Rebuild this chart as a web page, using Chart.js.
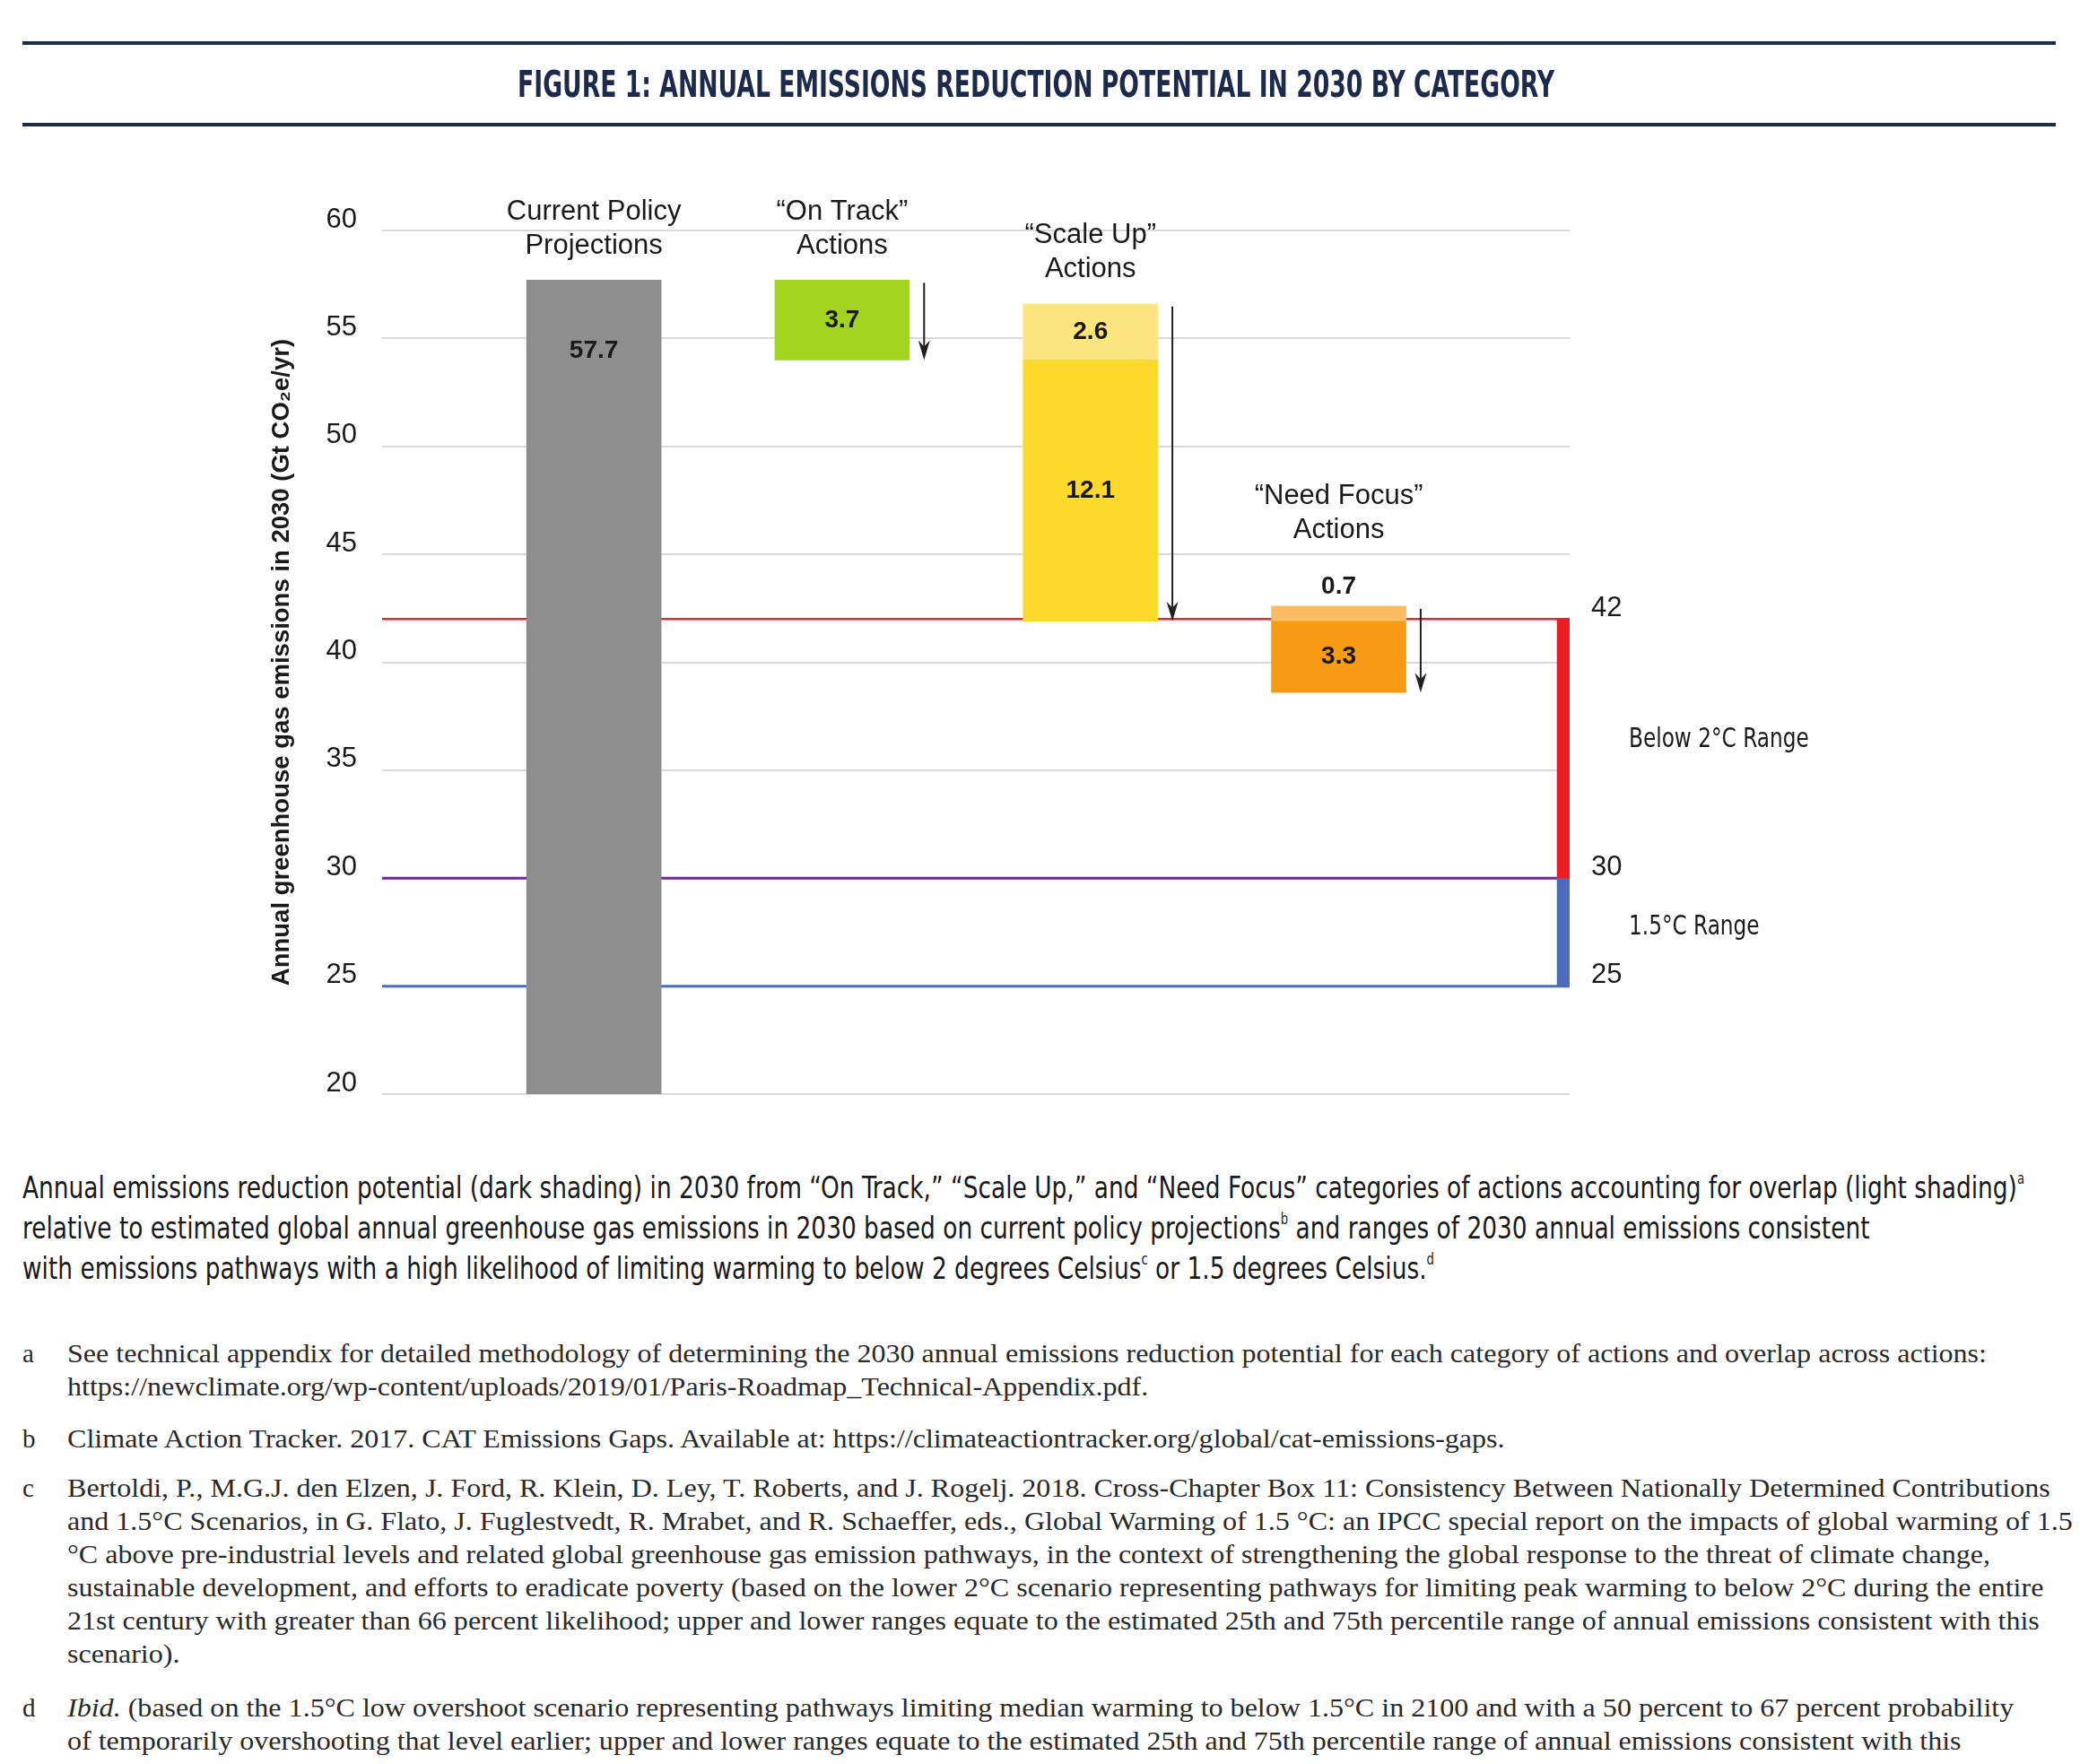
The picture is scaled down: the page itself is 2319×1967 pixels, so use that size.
<!DOCTYPE html>
<html>
<head>
<meta charset="utf-8">
<script src="https://cdn.jsdelivr.net/npm/chart.js@4.4.1/dist/chart.umd.min.js"></script>
<style>
  body { margin: 0; width: 2319px; height: 1967px; position: relative; background: #fff; overflow: hidden; }
  .rule { position: absolute; left: 25px; width: 2267px; height: 4px; background: #1c2b4b; }
  #titleWrap { position: absolute; left: 0; top: 74px; width: 2310px; text-align: center; }
  #titleText { display: inline-block; font: bold 40px/40px "Liberation Sans Narrow", "DejaVu Sans Condensed", "Liberation Sans", sans-serif; color: #1c2b4b; white-space: nowrap; transform-origin: center; }
  #chartBox { position: absolute; left: 0; top: 0; width: 2319px; height: 1270px; }
  #caption { position: absolute; left: 25px; top: 1302px; font: 34px/45px "Liberation Sans Narrow", "DejaVu Sans Condensed", "Liberation Sans", sans-serif; color: #1a1a1a; white-space: nowrap; transform-origin: left top; }
  #caption sup { font-size: 17px; line-height: 0; vertical-align: 0; position: relative; top: -16px; }
  .fn { position: absolute; left: 25px; font: 29px/37px "Liberation Serif", "DejaVu Serif", serif; color: #2a2a2a; white-space: nowrap; }
  .fn .lab { position: absolute; left: 0; top: 0; }
  .fn .txt { position: absolute; left: 50px; top: 0; transform-origin: left top; }
</style>
</head>
<body>
<div id="chartBox"><canvas id="chart"></canvas></div>
<div class="rule" style="top:46px"></div>
<div id="titleWrap"><span id="titleText">FIGURE 1: ANNUAL EMISSIONS REDUCTION POTENTIAL IN 2030 BY CATEGORY</span></div>
<div class="rule" style="top:137px"></div>

<div id="caption">Annual emissions reduction potential (dark shading) in 2030 from “On Track,” “Scale Up,” and “Need Focus” categories of actions accounting for overlap (light shading)<sup>a</sup><br>relative to estimated global annual greenhouse gas emissions in 2030 based on current policy projections<sup>b</sup> and ranges of 2030 annual emissions consistent<br>with emissions pathways with a high likelihood of limiting warming to below 2 degrees Celsius<sup>c</sup> or 1.5 degrees Celsius.<sup>d</sup></div>

<div class="fn" style="top:1491px"><span class="lab">a</span><span class="txt" id="fnA">See technical appendix for detailed methodology of determining the 2030 annual emissions reduction potential for each category of actions and overlap across actions:<br>https://newclimate.org/wp-content/uploads/2019/01/Paris-Roadmap_Technical-Appendix.pdf.</span></div>
<div class="fn" style="top:1586px"><span class="lab">b</span><span class="txt">Climate Action Tracker. 2017. CAT Emissions Gaps. Available at: https://climateactiontracker.org/global/cat-emissions-gaps.</span></div>
<div class="fn" style="top:1641px"><span class="lab">c</span><span class="txt">Bertoldi, P., M.G.J. den Elzen, J. Ford, R. Klein, D. Ley, T. Roberts, and J. Rogelj. 2018. Cross-Chapter Box 11: Consistency Between Nationally Determined Contributions<br>and 1.5°C Scenarios, in G. Flato, J. Fuglestvedt, R. Mrabet, and R. Schaeffer, eds., Global Warming of 1.5 °C: an IPCC special report on the impacts of global warming of 1.5<br>°C above pre-industrial levels and related global greenhouse gas emission pathways, in the context of strengthening the global response to the threat of climate change,<br>sustainable development, and efforts to eradicate poverty (based on the lower 2°C scenario representing pathways for limiting peak warming to below 2°C during the entire<br>21st century with greater than 66 percent likelihood; upper and lower ranges equate to the estimated 25th and 75th percentile range of annual emissions consistent with this<br>scenario).</span></div>
<div class="fn" style="top:1886px"><span class="lab">d</span><span class="txt"><i>Ibid.</i> (based on the 1.5°C low overshoot scenario representing pathways limiting median warming to below 1.5°C in 2100 and with a 50 percent to 67 percent probability<br>of temporarily overshooting that level earlier; upper and lower ranges equate to the estimated 25th and 75th percentile range of annual emissions consistent with this</span></div>

<script>
// values (Gt CO2e/yr in 2030)
const categoryLines = [['Current Policy', 'Projections'], ['“On Track”', 'Actions'], ['“Scale Up”', 'Actions'], ['“Need Focus”', 'Actions']];
const currentPolicy = 57.7;
const reductions = [3.7, 12.1, 3.3];     // dark shading: On Track, Scale Up, Need Focus
const overlaps = [0, 2.6, 0.7];          // light shading
const below2Range = [30, 42];
const below15Range = [25, 30];
const rangeLabels = ['Below 2°C Range', '1.5°C Range'];
const yMin = 20, yMax = 60, yStep = 5;
const rightTicks = [42, 30, 25];

const xMin = 0.147, xMax = 4.93, rangeX = 4.905;
const sansNarrow = '"Liberation Sans Narrow", "DejaVu Sans Condensed", "Liberation Sans", sans-serif';
const sans = '"Liberation Sans", Arial, sans-serif';
const ink = '#1a1a1a';

// waterfall: each category starts where the previous one ended
let level = currentPolicy;
const darkBars = [], lightBars = [], arrows = [];
reductions.forEach((r, i) => {
    const x = i + 2, top = +(level + overlaps[i]).toFixed(1), bottom = +(level - r).toFixed(1);
    if (overlaps[i] > 0) lightBars.push({ x, y: [level, top], label: overlaps[i] });
    darkBars.push({ x, y: [bottom, level], label: reductions[i] });
    arrows.push({ x: x + 0.33, from: top, to: bottom });
    level = bottom;
});

const lineDs = (v, color, w) => ({ type: 'line', data: [{ x: xMin, y: v }, { x: xMax, y: v }], borderColor: color, borderWidth: w, pointRadius: 0, order: 10 });

const overlay = {
    id: 'overlay',
    afterDatasetsDraw(chart) {
        const { ctx, chartArea, scales: { x, y } } = chart;
        ctx.save();
        // arrows
        ctx.strokeStyle = '#231f20'; ctx.fillStyle = '#231f20'; ctx.lineWidth = 2;
        arrows.forEach(a => {
            const px = x.getPixelForValue(a.x), y0 = y.getPixelForValue(a.from) + 3, y1 = y.getPixelForValue(a.to);
            ctx.beginPath(); ctx.moveTo(px, y0); ctx.lineTo(px, y1 - 12); ctx.stroke();
            ctx.beginPath(); ctx.moveTo(px, y1); ctx.lineTo(px - 6.5, y1 - 22); ctx.lineTo(px, y1 - 15); ctx.lineTo(px + 6.5, y1 - 22); ctx.closePath(); ctx.fill();
        });
        // value labels
        ctx.fillStyle = ink; ctx.textAlign = 'center'; ctx.textBaseline = 'middle';
        ctx.font = 'bold 28px ' + sans;
        const tops = [y.getPixelForValue(currentPolicy)];
        const above = [false];
        ctx.fillText(currentPolicy.toFixed(1), x.getPixelForValue(1), tops[0] + 79);
        darkBars.forEach((b, i) => {
            const yt = y.getPixelForValue(b.y[1]), yb = y.getPixelForValue(b.y[0]);
            ctx.fillText(b.label.toFixed(1), x.getPixelForValue(b.x), (yt + yb) / 2);
            tops[i + 1] = yt; above[i + 1] = false;
        });
        lightBars.forEach(b => {
            const yt = y.getPixelForValue(b.y[1]), yb = y.getPixelForValue(b.y[0]);
            const px = x.getPixelForValue(b.x), idx = b.x - 1;
            if (yb - yt < 40) { ctx.fillText(b.label.toFixed(1), px, yt - 22); above[idx] = true; }
            else ctx.fillText(b.label.toFixed(1), px, (yt + yb) / 2);
            tops[idx] = Math.min(tops[idx], yt);
        });
        // category labels
        ctx.font = '31px ' + sans;
        categoryLines.forEach((lines, i) => {
            const px = x.getPixelForValue(i + 1);
            const base = tops[i] - (above[i] ? 84 : 38);
            ctx.fillText(lines[1], px, base);
            ctx.fillText(lines[0], px, base - 38);
        });
        // range labels (horizontally condensed)
        ctx.font = '30px ' + sansNarrow; ctx.textAlign = 'left';
        [[below2Range, -10], [below15Range, -5]].forEach(([r, off], i) => {
            const mid = (y.getPixelForValue(r[0]) + y.getPixelForValue(r[1])) / 2;
            ctx.save();
            ctx.translate(chartArea.right + 66, mid + off);
            ctx.scale(0.86, 1);
            ctx.fillText(rangeLabels[i], 0, 0);
            ctx.restore();
        });
        ctx.restore();
    }
};

new Chart(document.getElementById('chart'), {
    type: 'bar',
    data: {
        datasets: [
            { label: 'Current Policy Projections', data: [{ x: 1, y: [yMin, currentPolicy] }], backgroundColor: '#8f8e8f', order: 1 },
            { label: 'Reduction potential', data: darkBars, backgroundColor: ['#a2d41f', '#fdd92b', '#f79a14'], order: 1 },
            { label: 'Overlap', data: lightBars, backgroundColor: ['#fde680', '#f9bd63'], order: 1 },
            { label: 'Below 2°C', data: [{ x: rangeX, y: below2Range }], backgroundColor: '#ec1c24', barThickness: 14, order: 2 },
            { label: '1.5°C', data: [{ x: rangeX, y: below15Range }], backgroundColor: '#4f6bbd', barThickness: 14, order: 2 },
            lineDs(below2Range[1], '#e8262b', 2.5),
            lineDs(below2Range[0], '#6c2b96', 3),
            lineDs(below15Range[0], '#4d6cb9', 3)
        ]
    },
    options: {
        responsive: true, maintainAspectRatio: false, animation: false, devicePixelRatio: 1, events: [],
        layout: { padding: { top: 257, bottom: 50, left: 0, right: 0 } },
        datasets: { bar: { grouped: false, barThickness: 150, borderWidth: 0 } },
        plugins: { legend: { display: false }, tooltip: { enabled: false } },
        scales: {
            x: { type: 'linear', min: xMin, max: xMax, offset: false, display: false },
            y: {
                min: yMin, max: yMax, position: 'left',
                ticks: { stepSize: yStep, color: ink, font: { family: sans, size: 31 }, padding: 28, labelOffset: -12 },
                grid: { color: '#dadada', lineWidth: 2, drawTicks: false },
                border: { display: false },
                title: { display: true, text: 'Annual greenhouse gas emissions in 2030 (Gt CO₂e/yr)', color: ink, font: { family: sans, size: 27.5, weight: 'bold' }, padding: { top: 298, bottom: 0 } },
                afterFit: s => { s.width = 426; }
            },
            y2: {
                min: yMin, max: yMax, position: 'right',
                afterBuildTicks: s => { s.ticks = rightTicks.map(v => ({ value: v })); },
                ticks: { color: ink, font: { family: sans, size: 31 }, padding: 24, labelOffset: -12 },
                grid: { display: false, drawTicks: false },
                border: { display: false },
                afterFit: s => { s.width = 569; }
            }
        }
    },
    plugins: [overlay]
});

// squeeze the condensed typography to the widths of the original
const fit = (el, target) => { el.style.transform = 'scaleX(' + (target / el.getBoundingClientRect().width) + ')'; };
fit(document.getElementById('titleText'), 1156);
fit(document.getElementById('caption'), 2232);
const fnA = document.getElementById('fnA');
const k = 2140 / fnA.getBoundingClientRect().width;
document.querySelectorAll('.fn .txt').forEach(el => { el.style.transform = 'scaleX(' + k + ')'; });
</script>
</body>
</html>
